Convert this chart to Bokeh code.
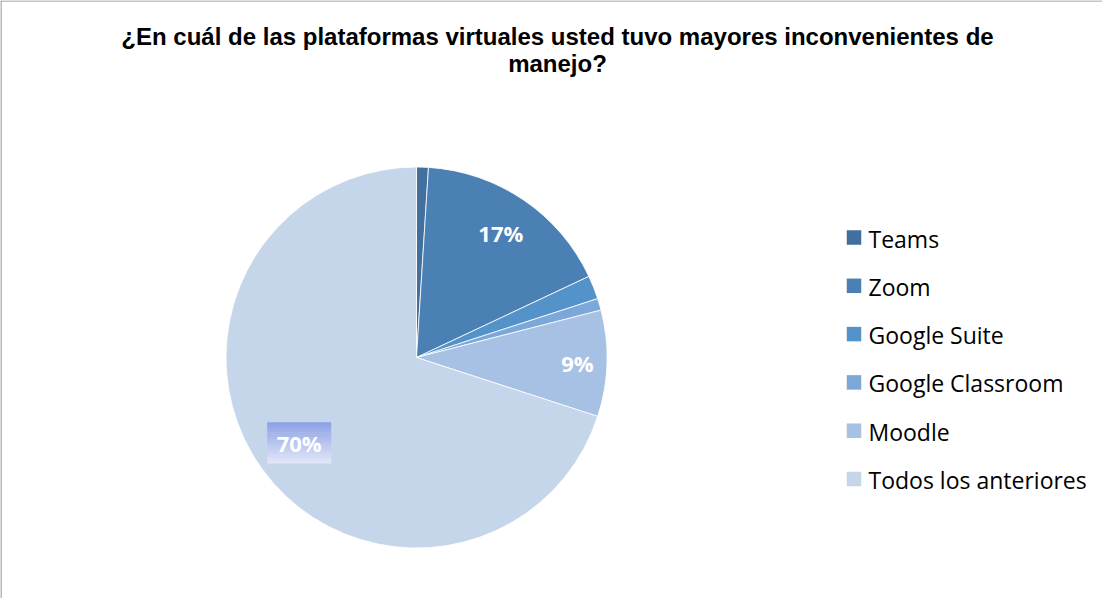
import math
from bokeh.plotting import figure
from bokeh.models import Range1d, ColumnDataSource
from bokeh.core.properties import value
from bokeh.embed import file_html
from bokeh.resources import INLINE

# ---- data ----
categories = ["Teams", "Zoom", "Google Suite", "Google Classroom", "Moodle", "Todos los anteriores"]
values = [1, 17, 2, 1, 9, 70]
colors = ["#41709E", "#4A80B4", "#5393CA", "#7BA8D8", "#A6C1E3", "#C5D5EA"]
title_lines = ["¿En cuál de las plataformas virtuales usted tuvo mayores inconvenientes de", "manejo?"]

# ---- layout (pixels) ----
W, H = 1102, 598
def sx(X):  # page pixel -> data x
    return X - 8
def sy(Y):  # page pixel -> data y
    return 606 - Y

cx, cy, R = sx(424), sy(365), 190.5
label_radius = {"Zoom": 150, "Moodle": 161, "Todos los anteriores": 145}

p = figure(width=W, height=H, output_backend="svg", toolbar_location=None,
           x_range=Range1d(0, W), y_range=Range1d(0, H), min_border=0,
           background_fill_color="white", border_fill_color="white")
p.axis.visible = False
p.grid.visible = False
p.outline_line_color = None

# border (left/top visible in reference)
p.segment(x0=[0.5, 0], y0=[0, H - 0.5], x1=[0.5, W], y1=[H, H - 0.5],
          line_color="#8C8C8C", line_width=1.2)

# wedges
total = float(sum(values))
starts, ends, mids = [], [], []
cum = 0.0
for v in values:
    a0 = math.pi / 2 - 2 * math.pi * cum / total
    cum += v
    a1 = math.pi / 2 - 2 * math.pi * cum / total
    starts.append(a0)
    ends.append(a1)
    mids.append((a0 + a1) / 2)

src = ColumnDataSource(dict(start=starts, end=ends, color=colors, cat=categories))
p.wedge(x=cx, y=cy, radius=R, start_angle="start", end_angle="end", direction="clock",
        fill_color="color", line_color="white", line_width=0.8, source=src)

# labels
for cat, v, m in zip(categories, values, mids):
    if cat not in label_radius:
        continue
    r = label_radius[cat]
    lx = cx + r * math.cos(m)
    ly = cy + r * math.sin(m)
    txt = f"{round(100 * v / total)}%"
    if cat == "Todos los anteriores":
        # gradient box behind label
        bw, bh = 64, 41
        n = 24
        top = (0x8D, 0xA1, 0xE6)
        bot = (0xE2, 0xE6, 0xF7)
        for i in range(n):
            t = i / (n - 1)
            c = tuple(int(top[k] + (bot[k] - top[k]) * t) for k in range(3))
            y_top = ly + bh / 2 - i * bh / n
            p.quad(left=lx - bw / 2, right=lx + bw / 2, top=y_top, bottom=y_top - bh / n - 0.3,
                   fill_color="#%02x%02x%02x" % c, line_color=None)
    p.text(x=[lx], y=[ly], text=[txt], text_font=value("Open Sans"), text_font_style="bold",
           text_font_size="22px", text_color="white", text_align="center", text_baseline="middle")

# title
p.text(x=[sx(565), sx(565)], y=[sy(44), sy(71)], text=title_lines,
       text_font=value("Liberation Sans"), text_font_style="bold", text_font_size="24px",
       text_color="black", text_align="center", text_baseline="middle")

# legend
for i, (cat, col) in enumerate(zip(categories, colors)):
    yy = sy(245 + i * 48.3)
    p.rect(x=[sx(861.5)], y=[yy], width=14.5, height=14.5, fill_color=col, line_color=None)
    p.text(x=[sx(876)], y=[yy - 1], text=[cat], text_font=value("Open Sans"),
           text_font_size="23px", text_color="black", text_align="left", text_baseline="middle")

open("out.html", "w").write(file_html(p, INLINE))
